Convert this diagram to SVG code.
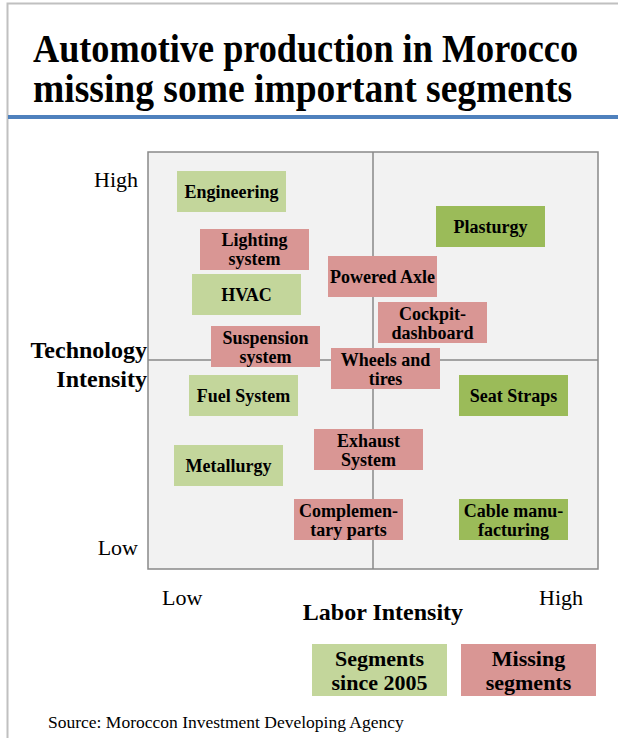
<svg xmlns="http://www.w3.org/2000/svg" width="618" height="738" viewBox="0 0 618 738">
<style>
text{font-family:"Liberation Serif","Times New Roman",serif;fill:#000}
.t{font-size:40px;font-weight:bold}
.n{font-size:18px;font-weight:bold;text-anchor:middle}
.ax{font-size:22px}
.at{font-size:24px;font-weight:bold}
.lg{font-size:22px;font-weight:bold;text-anchor:middle}
.lt{fill:#c3d69b}
.dk{fill:#9bbb59}
.pk{fill:#d99694}
</style>
<rect x="0" y="0" width="618" height="738" fill="#fff"/>
<path d="M7.5 738V3.5H618" fill="none" stroke="#c0c0c0" stroke-width="2"/>
<text class="t" x="33" y="62" textLength="545" lengthAdjust="spacingAndGlyphs">Automotive production in Morocco</text>
<text class="t" x="33" y="102" textLength="539" lengthAdjust="spacingAndGlyphs">missing some important segments</text>
<rect x="8" y="115" width="610" height="4" fill="#4f81bd"/>
<g id="grid">
<rect x="148" y="152" width="450" height="417" fill="#f2f2f2" stroke="#898989" stroke-width="1.5"/>
<line x1="373" y1="152" x2="373" y2="569" stroke="#898989" stroke-width="1.5"/>
<line x1="148" y1="360" x2="598" y2="360" stroke="#898989" stroke-width="1.5"/>
</g>
<g id="engineering"><rect class="lt" x="177" y="171" width="109" height="41"/><text class="n" x="231.5" y="198">Engineering</text></g>
<g id="plasturgy"><rect class="dk" x="436" y="206" width="109" height="41"/><text class="n" x="490.5" y="233">Plasturgy</text></g>
<g id="lighting"><rect class="pk" x="200" y="229" width="109" height="41"/><text class="n" x="254.5" y="246">Lighting</text><text class="n" x="254.5" y="265">system</text></g>
<g id="hvac"><rect class="lt" x="192" y="274" width="109" height="41"/><text class="n" x="246.5" y="301">HVAC</text></g>
<g id="axle"><rect class="pk" x="328" y="256" width="109" height="41"/><text class="n" x="382.5" y="283">Powered Axle</text></g>
<g id="cockpit"><rect class="pk" x="378" y="302" width="109" height="41"/><text class="n" x="432.5" y="320">Cockpit-</text><text class="n" x="432.5" y="339">dashboard</text></g>
<g id="suspension"><rect class="pk" x="211" y="326" width="109" height="41"/><text class="n" x="265.5" y="344">Suspension</text><text class="n" x="265.5" y="363">system</text></g>
<g id="wheels"><rect class="pk" x="331" y="348" width="109" height="41"/><text class="n" x="385.5" y="366">Wheels and</text><text class="n" x="385.5" y="385">tires</text></g>
<g id="fuel"><rect class="lt" x="189" y="375" width="109" height="41"/><text class="n" x="243.5" y="402">Fuel System</text></g>
<g id="seat"><rect class="dk" x="459" y="375" width="109" height="41"/><text class="n" x="513.5" y="402">Seat Straps</text></g>
<g id="exhaust"><rect class="pk" x="314" y="429" width="109" height="41"/><text class="n" x="368.5" y="447">Exhaust</text><text class="n" x="368.5" y="466">System</text></g>
<g id="metallurgy"><rect class="lt" x="174" y="445" width="109" height="41"/><text class="n" x="228.5" y="472">Metallurgy</text></g>
<g id="complementary"><rect class="pk" x="294" y="499" width="109" height="41"/><text class="n" x="348.5" y="517">Complemen-</text><text class="n" x="348.5" y="536">tary parts</text></g>
<g id="cable"><rect class="dk" x="459" y="499" width="109" height="41"/><text class="n" x="513.5" y="517">Cable manu-</text><text class="n" x="513.5" y="536">facturing</text></g>
<text class="ax" x="138" y="187" text-anchor="end">High</text>
<text class="ax" x="138" y="555" text-anchor="end">Low</text>
<text class="at" x="147" y="358" text-anchor="end">Technology</text>
<text class="at" x="147" y="387" text-anchor="end">Intensity</text>
<text class="ax" x="162" y="605">Low</text>
<text class="ax" x="583" y="605" text-anchor="end">High</text>
<text class="at" x="383" y="620" text-anchor="middle">Labor Intensity</text>
<g id="legend-since2005"><rect class="lt" x="312" y="644" width="135" height="52"/><text class="lg" x="379.5" y="666">Segments</text><text class="lg" x="379.5" y="690">since 2005</text></g>
<g id="legend-missing"><rect class="pk" x="461" y="644" width="135" height="52"/><text class="lg" x="528.5" y="666">Missing</text><text class="lg" x="528.5" y="690">segments</text></g>
<text x="48" y="728" font-size="17.5">Source: Moroccon Investment Developing Agency</text>
</svg>
